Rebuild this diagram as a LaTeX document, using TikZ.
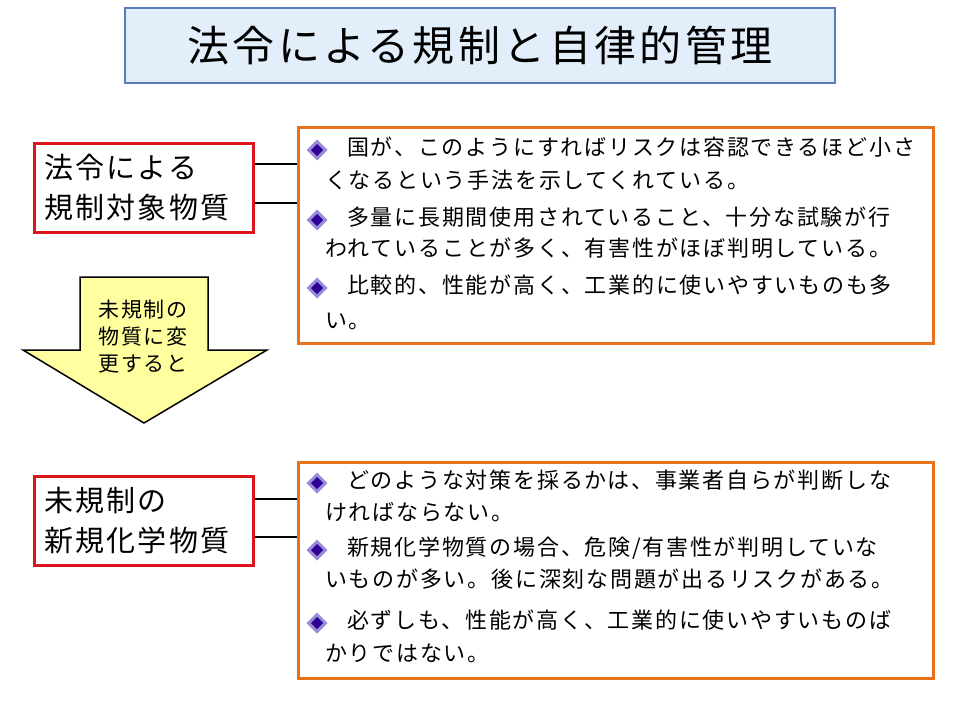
\documentclass[tikz,border=0pt]{standalone}
\usepackage{fontspec}
\setmainfont{Noto Sans CJK JP}[LetterSpace=8]
\usetikzlibrary{shapes.geometric}
\definecolor{ppt_red}{RGB}{218,22,28}
\definecolor{ppt_orange}{RGB}{232,114,28}
\definecolor{ppt_blue}{RGB}{85,125,185}
\definecolor{ppt_sky}{RGB}{226,238,250}
\definecolor{ppt_yellow}{RGB}{255,255,160}
\definecolor{ppt_navy}{RGB}{48,0,150}
\definecolor{ppt_lilac}{RGB}{150,140,215}
\tikzset{
  box_t/.style = {draw=ppt_blue, fill=ppt_sky, line width=1.5pt,
    minimum width=710pt, minimum height=75pt,
    font=\fontsize{42}{50}\selectfont},% titre
  box_r/.style = {draw=ppt_red, line width=3pt, minimum width=219pt,
    minimum height=89pt, inner sep=10pt, text width=199pt, align=left,
    font=\fontsize{29}{40}\selectfont},% boite rouge, substance
  box_o/.style = {draw=ppt_orange, line width=3pt, minimum width=635pt,
    minimum height=216pt},% boite orange, remarques
  mark_d/.style = {diamond, fill=ppt_navy, draw=ppt_lilac, line width=3pt,
    inner sep=0pt, minimum width=18pt, minimum height=18pt},% puce
  txt_b/.style = {anchor=west, inner sep=0pt, text height=0.88em,
    text depth=0.12em, font=\fontsize{22}{32}\selectfont},% ligne de texte
  link/.style = {line width=2pt}
}
\begin{document}
\begin{tikzpicture}[x=1pt,y=-1pt]
\useasboundingbox (0,0) rectangle (960,720);
\node [box_t] (title) at (480,45.5) {法令による規制と自律的管理};
% haut
\node [box_r] (reg) at (143.5,187.5) {法令による\\規制対象物質};
\node [box_o] (regnote) at (615.5,235) {};
\draw [link] ([yshift=24pt]reg.east) -- ([yshift=24pt]reg.east -| regnote.west);
\draw [link] ([yshift=-15pt]reg.east) -- ([yshift=-15pt]reg.east -| regnote.west);
\node [mark_d] (m1) at (317,150) {};
\node [txt_b] (t1a) at (347,152) {国が、このようにすればリスクは容認できるほど小さ};
\node [txt_b] (t1b) at (325,185) {くなるという手法を示してくれている。};
\node [mark_d] (m2) at (317,220) {};
\node [txt_b] (t2a) at (347,222) {多量に長期間使用されていること、十分な試験が行};
\node [txt_b] (t2b) at (325,253) {われていることが多く、有害性がほぼ判明している。};
\node [mark_d] (m3) at (317,288) {};
\node [txt_b] (t3a) at (347,290) {比較的、性能が高く、工業的に使いやすいものも多};
\node [txt_b] (t3b) at (325,325) {い。};
% fleche
\draw [fill=ppt_yellow, line width=1.5pt, line join=miter]
  (80,277) -- (208,277) -- (208,350) -- (267,350) -- (144,423)
  -- (23,350) -- (80,350) -- cycle;
\node [align=left, inner sep=0pt, font=\fontsize{21}{27}\selectfont]
  (change) at (143,337) {未規制の\\物質に変\\更すると};
% bas
\node [box_r] (unreg) at (143.5,521) {未規制の\\新規化学物質};
\node [box_o] (unregnote) at (615.5,570) {};
\draw [link] ([yshift=22pt]unreg.east) -- ([yshift=22pt]unreg.east -| unregnote.west);
\draw [link] ([yshift=-16pt]unreg.east) -- ([yshift=-16pt]unreg.east -| unregnote.west);
\node [mark_d] (m4) at (317,483) {};
\node [txt_b] (t4a) at (347,485) {どのような対策を採るかは、事業者自らが判断しな};
\node [txt_b] (t4b) at (325,517) {ければならない。};
\node [mark_d] (m5) at (317,550) {};
\node [txt_b] (t5a) at (347,552) {新規化学物質の場合、危険/有害性が判明していな};
\node [txt_b] (t5b) at (325,584) {いものが多い。後に深刻な問題が出るリスクがある。};
\node [mark_d] (m6) at (317,623) {};
\node [txt_b] (t6a) at (347,625) {必ずしも、性能が高く、工業的に使いやすいものば};
\node [txt_b] (t6b) at (325,658) {かりではない。};
\end{tikzpicture}
\end{document}
